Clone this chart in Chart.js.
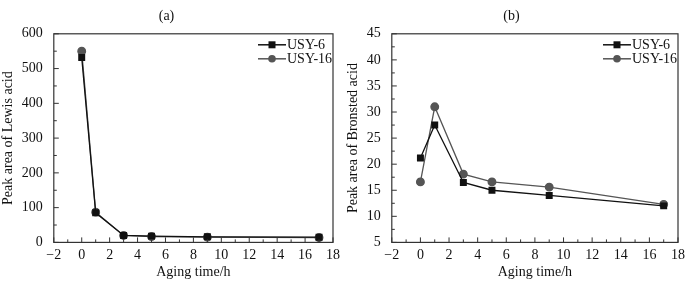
<!DOCTYPE html>
<html>
<head>
<meta charset="utf-8">
<script src="https://cdn.jsdelivr.net/npm/chart.js@4"></script>
<style>
  body { margin: 0; background: #fff; }
  .wrap { position: absolute; top: 0; width: 345px; height: 286px; }
  #a_wrap { left: 0; }
  #b_wrap { left: 345px; }
</style>
</head>
<body>
<div class="wrap" id="a_wrap"><canvas id="lewis" width="345" height="286"></canvas></div>
<div class="wrap" id="b_wrap"><canvas id="bronsted" width="345" height="286"></canvas></div>
<script>
const aging_time = [0, 1, 3, 5, 9, 17];
const lewis_usy6 = [532, 85, 20, 18, 16, 15];
const lewis_usy16 = [550, 87, 20, 17, 15, 14];
const bronsted_usy6 = [21.2, 27.5, 16.5, 15.0, 14.0, 12.0];
const bronsted_usy16 = [16.6, 31.0, 18.1, 16.6, 15.6, 12.3];
const series_names = ["USY-6", "USY-16"];

const FONT = "'Liberation Serif', 'DejaVu Serif', serif";
const COLORS = { s6: "#111111", s16: "#555555" };

function toPoints(ys) {
  return aging_time.map((x, i) => ({ x: x, y: ys[i] }));
}

// frame around the plot, inward ticks, legend in the top-right corner
const framePlugin = {
  id: "frame",
  afterDraw(chart) {
    const ctx = chart.ctx;
    const a = chart.chartArea;
    ctx.save();
    ctx.strokeStyle = "#333";
    ctx.lineWidth = 1.2;
    ctx.strokeRect(a.left, a.top, a.right - a.left, a.bottom - a.top);

    const xs = chart.scales.x;
    ctx.lineWidth = 1;
    for (let v = -2; v <= 18; v += 1) {
      const px = xs.getPixelForValue(v);
      const len = v % 2 === 0 ? 5 : 3;
      ctx.beginPath();
      ctx.moveTo(px, a.bottom);
      ctx.lineTo(px, a.bottom - len);
      ctx.stroke();
    }
    const ys = chart.scales.y;
    const step = chart.options.scales.y.ticks.stepSize;
    for (let v = ys.min; v <= ys.max + 1e-9; v += step / 2) {
      const py = ys.getPixelForValue(v);
      const k = (v - ys.min) / step;
      const major = Math.abs(k - Math.round(k)) < 1e-6;
      ctx.beginPath();
      ctx.moveTo(a.left, py);
      ctx.lineTo(a.left + (major ? 5 : 3), py);
      ctx.stroke();
    }

    ctx.font = "14px " + FONT;
    ctx.textBaseline = "middle";
    chart.data.datasets.forEach((ds, i) => {
      const y = a.top + 11 + i * 14;
      const x0 = a.right - 75;
      ctx.strokeStyle = ds.borderColor;
      ctx.lineWidth = 1.5;
      ctx.beginPath();
      ctx.moveTo(x0, y);
      ctx.lineTo(x0 + 28, y);
      ctx.stroke();
      ctx.fillStyle = ds.backgroundColor;
      if (ds.pointStyle === "rect") {
        ctx.fillRect(x0 + 10.5, y - 3.5, 7, 7);
      } else {
        ctx.beginPath();
        ctx.arc(x0 + 14, y, 3.8, 0, Math.PI * 2);
        ctx.fill();
      }
      ctx.fillStyle = "#111";
      ctx.fillText(ds.label, x0 + 29, y + 1);
    });
    ctx.restore();
  },
};

function makeChart(id, title, ylabel, s6, s16, ymin, ymax, ystep) {
  const config = {
    type: "scatter",
    data: {
      datasets: [
        {
          label: series_names[0],
          data: toPoints(s6),
          showLine: true,
          borderColor: COLORS.s6,
          backgroundColor: COLORS.s6,
          borderWidth: 1.3,
          pointStyle: "rect",
          pointRadius: 4,
        },
        {
          label: series_names[1],
          data: toPoints(s16),
          showLine: true,
          borderColor: COLORS.s16,
          backgroundColor: COLORS.s16,
          borderWidth: 1.3,
          pointStyle: "circle",
          pointRadius: 3.8,
        },
      ],
    },
    options: {
      responsive: false,
      animation: false,
      layout: { padding: { left: 0, right: 12, top: 0, bottom: 5 } },
      plugins: {
        legend: { display: false },
        tooltip: { enabled: false },
        title: {
          display: true,
          text: title,
          color: "#111",
          font: { family: FONT, size: 14, weight: "normal" },
          padding: { top: 8, bottom: 9 },
        },
      },
      scales: {
        x: {
          type: "linear",
          min: -2,
          max: 18,
          grid: { display: false },
          border: { display: false },
          ticks: {
            stepSize: 2,
            color: "#111",
            font: { family: FONT, size: 14 },
            padding: -3,
            maxRotation: 0,
            callback: (v) => (v < 0 ? "\u2212" + Math.abs(v) : v),
          },
          title: {
            display: true,
            text: "Aging time/h",
            color: "#111",
            font: { family: FONT, size: 14 },
            padding: { top: 3, bottom: 0 },
          },
        },
        y: {
          min: ymin,
          max: ymax,
          grid: { display: false },
          border: { display: false },
          ticks: {
            stepSize: ystep,
            color: "#111",
            font: { family: FONT, size: 14 },
            padding: 3,
          },
          title: {
            display: true,
            text: ylabel,
            color: "#111",
            font: { family: FONT, size: 14 },
            padding: { top: 0, bottom: 2 },
          },
        },
      },
    },
    plugins: [framePlugin],
  };
  return new Chart(document.getElementById(id), config);
}

makeChart("lewis", "(a)", "Peak area of Lewis acid", lewis_usy6, lewis_usy16, 0, 600, 100);
makeChart("bronsted", "(b)", "Peak area of Bronsted acid", bronsted_usy6, bronsted_usy16, 5, 45, 5);
</script>
</body>
</html>
